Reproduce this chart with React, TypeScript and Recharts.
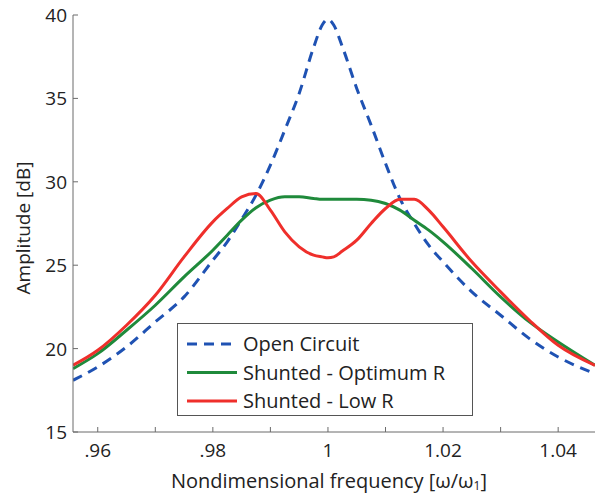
import React from 'react';
import { LineChart, Line, XAxis, YAxis, Legend } from 'recharts';

// nondimensional frequency (x)
const freq = [0.9557, 0.96, 0.965, 0.97, 0.975, 0.98, 0.9825, 0.985, 0.9875, 0.99, 0.9925, 0.995, 0.9975, 0.999, 1.0, 1.001, 1.0025, 1.005, 1.0075, 1.01, 1.0125, 1.015, 1.0175, 1.02, 1.025, 1.03, 1.035, 1.04, 1.0464];
// amplitude [dB]
const openCircuit = [18.1, 18.9, 20.1, 21.6, 23.1, 25.3, 26.4, 27.75, 29.2, 31.0, 33.1, 35.3, 38.05, 39.4, 39.75, 39.4, 38.1, 35.6, 33.4, 31.1, 29.0, 27.5, 26.2, 25.2, 23.4, 22.0, 20.6, 19.5, 18.5];
const optimumR = [18.8, 19.7, 21.1, 22.6, 24.3, 25.9, 26.8, 27.7, 28.45, 28.9, 29.1, 29.1, 29.0, 28.95, 28.95, 28.95, 28.95, 28.95, 28.9, 28.7, 28.3, 27.7, 27.1, 26.4, 24.8, 23.1, 21.6, 20.4, 19.0];
const lowR = [19.0, 19.9, 21.4, 23.2, 25.5, 27.6, 28.4, 29.1, 29.3, 28.3, 27.0, 26.1, 25.6, 25.5, 25.45, 25.5, 25.85, 26.5, 27.5, 28.4, 28.95, 28.95, 28.3, 27.3, 25.2, 23.4, 21.7, 20.2, 19.0];

const xTicks = [0.96, 0.97, 0.98, 0.99, 1.0, 1.01, 1.02, 1.03, 1.04];
const xTickLabels: Record<string, string> = { '0.96': '.96', '0.98': '.98', '1': '1', '1.02': '1.02', '1.04': '1.04' };
const yTicks = [15, 20, 25, 30, 35, 40];

const seriesNames = ['Open Circuit', 'Shunted - Optimum R', 'Shunted - Low R'];

const data = freq.map((f, i) => ({
    f,
    open: openCircuit[i],
    optimum: optimumR[i],
    low: lowR[i],
}));

const FONT = '"Open Sans", sans-serif';
const AXIS = '#6b6b6b';
const BLUE = '#1f52b3';
const GREEN = '#1f8a3b';
const RED = '#ef2f2b';

const BottomTick = (props: any) => {
    const { x, y, payload } = props;
    const label = xTickLabels[String(payload.value)];
    return (
        <g>
            <line x1={x} x2={x} y1={y} y2={y - 5} stroke={AXIS} strokeWidth={1} />
            {label && (
                <text x={x} y={y + 25} textAnchor="middle" fontSize={19} fontFamily={FONT} fill="#222">
                    {label}
                </text>
            )}
        </g>
    );
};

const TopTick = (props: any) => {
    const { x, y } = props;
    return <line x1={x} x2={x} y1={y} y2={y + 5} stroke={AXIS} strokeWidth={1} />;
};

const LeftTick = (props: any) => {
    const { x, y, payload } = props;
    return (
        <g>
            <line x1={x} x2={x + 5} y1={y} y2={y} stroke={AXIS} strokeWidth={1} />
            <text x={x - 6} y={y + 7} textAnchor="end" fontSize={19} fontFamily={FONT} fill="#222">
                {payload.value}
            </text>
        </g>
    );
};

const LegendBox = () => {
    const styles = [
        { color: BLUE, dash: '10 7' },
        { color: GREEN, dash: undefined },
        { color: RED, dash: undefined },
    ];
    return (
        <div style={{ width: 296, height: 93, boxSizing: 'border-box', border: '1px solid #555', background: '#fff', fontFamily: FONT }}>
            <svg width={294} height={91} style={{ display: 'block' }}>
                {seriesNames.map((name, i) => {
                    const cy = 20 + i * 28.5;
                    return (
                        <g key={name}>
                            <line x1={9} x2={59} y1={cy} y2={cy} stroke={styles[i].color} strokeWidth={3} strokeDasharray={styles[i].dash} />
                            <text x={65} y={cy + 7} fontSize={20} fontFamily={FONT} fill="#222">{name}</text>
                        </g>
                    );
                })}
            </svg>
        </div>
    );
};

export default function App() {
    return (
        <div style={{ position: 'absolute', left: 0, top: 0, width: 595, height: 495, background: '#fff' }}>
            <LineChart width={595} height={495} data={data} margin={{ top: 15, right: 0, left: 0, bottom: 0 }}>
                <XAxis
                    dataKey="f"
                    type="number"
                    domain={[0.9557, 1.0464]}
                    allowDataOverflow
                    ticks={xTicks}
                    interval={0}
                    tick={<BottomTick />}
                    tickLine={false}
                    tickSize={0}
                    tickMargin={0}
                    height={63}
                    stroke={AXIS}
                    label={{
                        content: () => (
                            <text x={329} y={488} textAnchor="middle" fontSize={20} fontFamily={FONT} fill="#222">
                                Nondimensional frequency [ω/ω<tspan fontSize={12} dy={2}>1</tspan><tspan dy={-2}>]</tspan>
                            </text>
                        ),
                    }}
                />
                <XAxis
                    xAxisId="top"
                    orientation="top"
                    dataKey="f"
                    type="number"
                    domain={[0.9557, 1.0464]}
                    allowDataOverflow
                    ticks={xTicks}
                    interval={0}
                    tick={<TopTick />}
                    tickLine={false}
                    tickSize={0}
                    tickMargin={0}
                    height={0}
                    stroke={AXIS}
                />
                <YAxis
                    type="number"
                    domain={[15, 40]}
                    ticks={yTicks}
                    interval={0}
                    tick={<LeftTick />}
                    tickLine={false}
                    tickSize={0}
                    tickMargin={0}
                    width={73}
                    stroke={AXIS}
                    label={{
                        content: () => (
                            <text x={30} y={228} transform="rotate(-90 30 228)" textAnchor="middle" fontSize={19} fontFamily={FONT} fill="#222">
                                Amplitude [dB]
                            </text>
                        ),
                    }}
                />
                <Legend
                    layout="horizontal"
                    verticalAlign="middle"
                    align="center"
                    wrapperStyle={{ top: 323, left: 177, width: 296 }}
                    content={<LegendBox />}
                />
                <Line type="monotone" dataKey="open" name={seriesNames[0]} stroke={BLUE} strokeWidth={3} strokeDasharray="10 7" dot={false} isAnimationActive={false} />
                <Line type="monotone" dataKey="optimum" name={seriesNames[1]} stroke={GREEN} strokeWidth={3} dot={false} isAnimationActive={false} />
                <Line type="monotone" dataKey="low" name={seriesNames[2]} stroke={RED} strokeWidth={3} dot={false} isAnimationActive={false} />
            </LineChart>
        </div>
    );
}
